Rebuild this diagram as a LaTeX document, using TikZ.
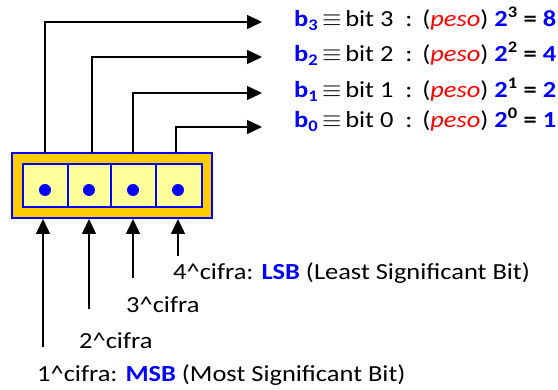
\documentclass[tikz,border=0pt]{standalone}
\usepackage{fontspec}
\setmainfont{Carlito}[FakeStretch=1.15]
\usetikzlibrary{arrows.meta}
\definecolor{bblue}{RGB}{0,0,255}
\definecolor{rred}{RGB}{255,0,0}
\definecolor{outerfill}{RGB}{255,204,0}
\definecolor{innerfill}{RGB}{255,255,153}
\tikzset{
  conn/.style={line width=1.5pt,-{Triangle[length=15pt,width=14pt]}},
  lbl/.style={anchor=base west,inner sep=0pt,font=\fontsize{23}{27}\selectfont},
  bitdot/.style={circle,fill=bblue,inner sep=0pt,minimum size=12pt},
  cellline/.style={draw=bblue,line width=2pt}
}
\newcommand{\bw}[2]{{\color{bblue}\bfseries b\textsubscript{#1}}\,$\equiv$\,bit #1\ \ :\ \,(\textcolor{rred}{\itshape peso})\ {\bfseries\textcolor{bblue}{2}\textsuperscript{#1}\ =\ \textcolor{bblue}{#2}}}
\begin{document}
\begin{tikzpicture}[x=1pt,y=-1pt]
\useasboundingbox (0,0) rectangle (558,390);
% register
\draw[cellline,fill=outerfill] (12,153) rectangle (212,218);
\draw[cellline,fill=innerfill] (23,164) rectangle (202,207);
\draw[cellline] (68,164) -- (68,207) (111,164) -- (111,207) (156,164) -- (156,207);
\node[bitdot] (d3) at (45,190) {};
\node[bitdot] (d2) at (89,190) {};
\node[bitdot] (d1) at (133,190) {};
\node[bitdot] (d0) at (178,190) {};
% top connectors
\coordinate (t3) at (45,153); \coordinate (t2) at (92,153);
\coordinate (t1) at (133,153); \coordinate (t0) at (176,153);
\coordinate (e3) at (262,22); \coordinate (e2) at (262,57);
\coordinate (e1) at (262,93); \coordinate (e0) at (262,127);
\draw[conn] (t3) |- (e3);
\draw[conn] (t2) |- (e2);
\draw[conn] (t1) |- (e1);
\draw[conn] (t0) |- (e0);
% right labels
\node[lbl] (r3) at (294,27) {\bw{3}{8}};
\node[lbl] (r2) at (294,62) {\bw{2}{4}};
\node[lbl] (r1) at (294,98) {\bw{1}{2}};
\node[lbl] (r0) at (294,128) {\bw{0}{1}};
% bottom connectors
\coordinate (b3) at (43,347); \coordinate (h3) at (43,219);
\coordinate (b2) at (89,309); \coordinate (h2) at (89,219);
\coordinate (b1) at (133,278); \coordinate (h1) at (133,219);
\coordinate (b0) at (178,256); \coordinate (h0) at (178,219);
\draw[conn] (b3) -- (h3);
\draw[conn] (b2) -- (h2);
\draw[conn] (b1) -- (h1);
\draw[conn] (b0) -- (h0);
% bottom labels
\node[lbl] (c0) at (173,280) {4\textasciicircum cifra: \textcolor{bblue}{\bfseries LSB} (Least Significant Bit)};
\node[lbl] (c1) at (126,313) {3\textasciicircum cifra};
\node[lbl] (c2) at (79,349) {2\textasciicircum cifra};
\node[lbl] (c3) at (37,382) {1\textasciicircum cifra: \textcolor{bblue}{\bfseries MSB} (Most Significant Bit)};
\end{tikzpicture}
\end{document}
